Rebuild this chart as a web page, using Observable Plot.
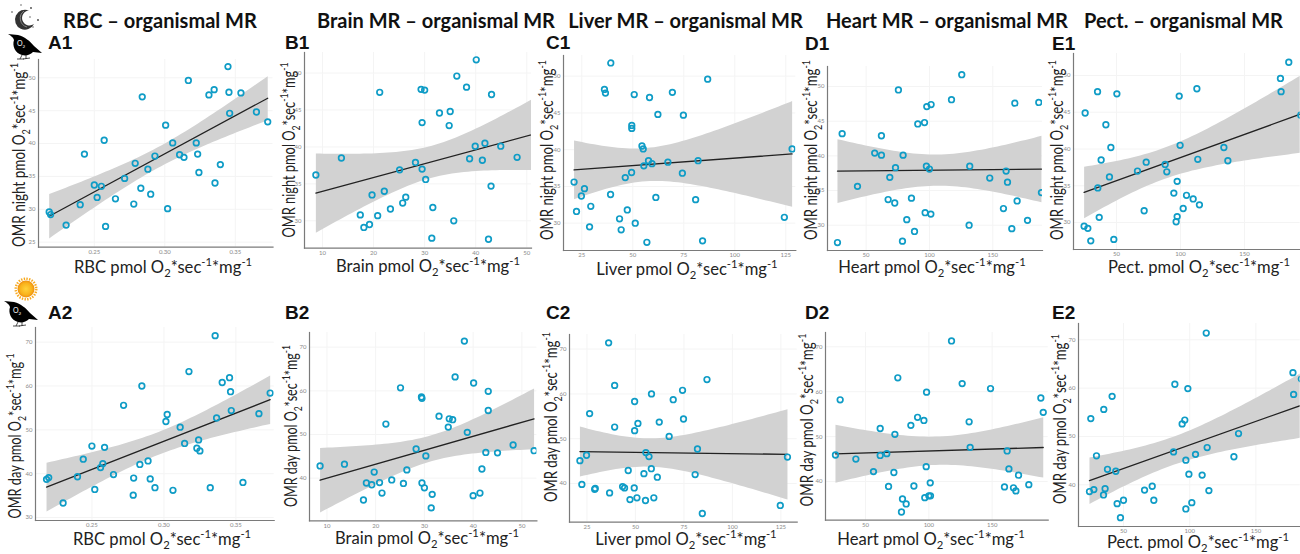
<!DOCTYPE html>
<html>
<head>
<meta charset="utf-8">
<script src="https://cdn.jsdelivr.net/npm/d3@7"></script>
<script src="https://cdn.jsdelivr.net/npm/@observablehq/plot@0.6"></script>
<style>
html,body{margin:0;padding:0;background:#fff;overflow:hidden}
#page{position:relative;width:1300px;height:554px;overflow:hidden;font-family:Lato,"Open Sans",sans-serif;color:#111}
#page svg.panel{position:absolute}
.t{position:absolute;white-space:nowrap;line-height:1}
.title{font-weight:700;font-size:20px;transform:translate(-50%,-50%)}
.letter{font-family:"Liberation Sans",Arial,sans-serif;font-weight:700;font-size:19px;transform:translate(0,-50%)}
.xl{font-size:16.6px;transform:translate(-50%,-50%);color:#222}
.yl{font-size:17.6px;color:#222}
sub,sup{font-size:.68em;line-height:0}
</style>
</head>
<body>
<div id="page"></div>
<script>
// Values, one pair of lists per panel
const a1X=[.218,.219,.230,.240,.243,.250,.252,.255,.257,.258,.265,.2715,.278,.279,.283,.284,.288,.290,.293,.3006,.302,.3056,.3105,.3136,.3167,.3223,.3233,.3242,.3313,.335,.3356,.3394,.3448,.3455,.346,.354,.365,.373];
const a1Y=[29.6,29.2,27.6,30.7,38.4,33.7,31.8,33.5,40.5,27.4,31.6,34.7,30.8,37.0,33.2,47.1,36.1,32.3,38.1,42.8,30.1,40.1,38.3,37.9,49.6,40.1,38.4,35.6,47.4,48.2,34.0,36.8,51.7,47.8,44.6,47.7,44.8,43.3];
const a2X=[.2185,.220,.230,.240,.244,.250,.252,.256,.2576,.2588,.265,.272,.2787,.279,.2833,.2847,.289,.2905,.2938,.3014,.3023,.3063,.3113,.3144,.3174,.3229,.3241,.325,.3322,.3366,.3356,.3405,.3456,.3463,.3468,.3549,.366,.3738];
const a2Y=[38.7,39.1,33.3,39.3,43.3,46.3,36.4,41.4,42.3,46.0,39.8,55.6,35.1,39.0,42.1,60.0,42.9,38.8,36.8,51.9,53.5,36.2,50.6,46.9,63.3,45.8,47.7,45.2,36.8,52.7,71.5,60.8,61.9,58.7,54.4,38.0,53.7,58.4];
const b1X=[8.7,13.7,17.4,18.1,19.2,19.7,20.8,21.2,22.1,23.3,25.1,25.7,26.3,28.2,29.3,29.5,29.5,30.0,30.2,31.4,31.6,32.9,34.8,35.0,35.7,36.3,38.2,38.8,39.9,40.1,41.3,41.8,42.5,43.0,43.1,44.9,48.1,52.5];
const b1Y=[36.2,38.5,30.8,29.1,29.5,33.5,30.7,47.4,34.0,31.6,36.9,32.4,33.2,37.9,47.8,37.0,43.3,47.7,35.6,27.65,31.8,44.6,42.9,44.8,30.0,49.6,48.1,38.4,40.1,51.8,38.2,40.5,27.5,34.7,47.1,40.1,38.6,33.7];
const b2X=[8.6,13.6,17.5,18.1,19.2,19.7,20.8,21.3,22.1,23.3,25.1,25.7,26.4,28.3,29.4,29.5,29.5,30.0,30.3,31.4,31.6,33.0,34.9,35.1,35.8,36.3,38.2,38.8,40.0,40.1,41.4,41.8,42.6,43.1,43.1,45.0,48.2,52.5];
const b2Y=[42.8,43.2,35.0,38.9,38.5,41.4,39.0,36.6,52.4,39.6,60.7,38.8,41.9,46.7,58.6,58.3,38.9,37.8,45.1,33.2,36.3,54.2,51.7,53.6,53.4,63.2,71.4,50.5,36.0,61.8,36.6,42.1,45.9,55.5,59.9,45.8,47.6,46.3];
const c1X=[21.2,22.4,24.8,26.3,28.8,29.4,36.1,36.6,39.1,39.2,43.5,44.3,46.3,47.3,49.4,49.5,49.5,50.7,51.2,54.5,55.1,55.4,56.9,57.7,58.2,59.4,61.3,62.3,67.2,69.4,74.3,74.8,80.8,82.0,84.2,86.7,124.3,128.1];
const c1Y=[35.6,31.6,33.7,34.7,29.5,32.3,48.2,47.7,33.9,51.8,30.6,29.1,36.2,31.8,36.9,43.3,42.9,47.5,30.0,40.5,40.1,37.8,27.4,38.5,47.1,38.1,33.5,44.8,38.3,47.8,36.8,44.7,33.2,38.5,27.6,49.6,30.8,40.1];
const c2X=[21.4,22.4,24.8,26.4,29.0,29.3,36.2,36.7,39.3,39.3,43.4,44.4,46.3,47.2,49.4,49.6,49.6,50.8,51.3,54.4,55.4,55.2,57.0,58.2,58.3,59.5,61.3,62.3,67.4,69.5,74.3,74.8,80.8,82.0,84.5,86.9,124.7,128.4];
const c2Y=[45.1,39.8,46.3,55.6,38.7,38.9,71.4,37.9,61.9,52.6,39.3,39.0,42.9,36.4,39.0,58.3,51.8,36.8,53.4,42.2,46.9,36.2,46.0,43.3,60.0,36.8,41.4,53.7,50.5,58.7,60.8,54.4,42.0,47.7,33.3,63.2,35.1,45.9];
const d1X=[27.4,31.1,43.2,56.8,62.1,62.1,67.4,68.7,72.6,73.2,75.5,78.7,79.2,82.1,85.8,88.2,90.8,96.1,96.6,97.6,97.9,100.0,101.1,101.3,117.4,125.5,131.3,131.8,147.6,158.4,160.5,161.6,165.0,167.4,169.2,177.4,186.3,188.4];
const d1Y=[27.5,43.2,35.6,40.4,42.9,40.1,33.7,36.9,33.2,38.3,49.5,27.7,40.1,30.8,33.9,29.1,44.6,44.8,31.8,38.5,47.1,38.1,31.6,47.4,48.1,51.7,30.0,38.5,36.8,32.4,37.8,36.2,29.5,47.6,33.5,30.7,47.7,34.7];
const d2X=[26.3,30,42.4,56.3,61.6,61.6,66.8,68.2,72.4,73.2,75.5,78.4,79.2,82.1,85.8,88.2,91.1,96.1,96.8,97.9,98.2,100,101.3,101.1,117.9,126.3,131.8,132.6,148.7,159.7,161.8,163.2,166.8,168.7,170.8,178.9,188.4,190.3];
const d2Y=[45.9,58.2,45.0,42.2,51.8,45.8,46.2,38.9,42.0,50.5,63.1,33.2,36.1,35.0,52.5,39.0,54.3,53.6,36.4,43.3,59.9,36.8,36.8,39.7,71.3,61.8,53.3,47.6,60.7,38.8,46.8,42.8,38.6,37.9,41.4,39.3,58.6,55.4];
const e1X=[24.7,25.5,27.6,29.9,35.2,35.4,36.5,38.0,41.7,44.5,45.6,47.9,50.3,66.4,71.6,73.2,88.0,89.3,94.8,96.6,97.4,97.4,99.0,99.7,102.1,104.7,109.9,112.8,113.5,114.8,133.9,137.0,178.1,178.6,184.6,194];
const e1Y=[29.5,44.9,29.2,27.5,47.8,34.7,30.7,38.5,43.3,36.2,40.2,27.7,47.5,37.0,31.6,38.2,37.9,36.9,34.0,30.1,30.8,35.6,47.2,40.5,31.9,33.7,33.2,48.2,38.6,32.4,40.2,38.4,49.6,47.8,51.8,44.6];
const e2X=[24.3,25.3,27.6,29.6,35.1,34.9,36.1,37.9,41.4,44.2,45.2,47.7,50.0,65.9,71.7,72.9,87.8,88.8,94.3,96.3,97.1,97.1,98.6,99.4,101.6,104.4,109.4,112.5,113.2,114.5,133.4,136.9,178,178.5,184.3,194];
const e2Y=[38.6,53.7,39.0,46.0,55.6,37.9,39.2,43.2,58.3,42.8,36.1,33.2,36.8,38.9,39.7,36.8,46.8,60.8,52.6,53.4,35.0,45.1,59.9,42.2,36.3,46.3,42.0,71.4,47.7,38.8,45.8,50.6,63.2,58.7,61.9,54.4];

const nightTicks=[30,35,40,45,50];
const dayTicks=[40,50,60,70];

// frame = [left, top, right, bottom]; xCal / yCal = [value, pixel, value, pixel]
const panels=[
 {xs:a1X,ys:a1Y,frame:[37.5,59,272,246.7],xCal:[.25,93.3,.35,234.3],yCal:[25,241.7,50,77.3],xTicks:[.25,.30,.35],yTicks:[25,...nightTicks],fmt:d3.format(".2f")},
 {xs:b1X,ys:b1Y,frame:[303.7,51.7,530.7,247.3],xCal:[10,321.7,50,526],yCal:[30,220,50,72.3],xTicks:[10,20,30,40,50],yTicks:nightTicks},
 {xs:c1X,ys:c1Y,frame:[562.7,55,795,250],xCal:[25,581,125,785],yCal:[30,222.7,50,75.7],xTicks:[25,50,75,100,125],yTicks:nightTicks},
 {xs:d1X,ys:d1Y,frame:[826.7,66,1041.7,250],xCal:[50,865.3,150,992],yCal:[30,224.7,50,86],xTicks:[50,100,150],yTicks:nightTicks},
 {xs:e1X,ys:e1Y,frame:[1073.3,53.3,1300,249.3],xCal:[50,1116.3,150,1244.3],yCal:[30,222.3,50,75.3],xTicks:[50,100,150],yTicks:nightTicks},
 {xs:a2X,ys:a2Y,frame:[35.3,327,274,520],xCal:[.25,91.7,.35,235.7],yCal:[30,517,70,341.7],xTicks:[.25,.30,.35],yTicks:[30,...dayTicks],fmt:d3.format(".2f")},
 {xs:b2X,ys:b2Y,frame:[309.3,332,536.7,520.3],xCal:[10,326.7,50,521.7],yCal:[40,477.7,70,346.7],xTicks:[10,20,30,40,50],yTicks:dayTicks},
 {xs:c2X,ys:c2Y,frame:[569.3,333.7,797,521.3],xCal:[25,586.7,125,780.7],yCal:[40,482.7,70,348.3],xTicks:[25,50,75,100,125],yTicks:dayTicks},
 {xs:d2X,ys:d2Y,frame:[825.3,332,1048,519.7],xCal:[50,865.3,150,992],yCal:[40,481,70,346.3],xTicks:[50,100,150],yTicks:dayTicks},
 {xs:e2X,ys:e2Y,frame:[1078.3,323,1300,526],xCal:[50,1123.3,150,1255.7],yCal:[40,484.3,70,339.3],xTicks:[50,100,150],yTicks:dayTicks}
];

const page=document.getElementById("page");
const ml=16,mt=4,mr=0,mb=14;
panels.forEach(p=>{
  const [L,T,R,B]=p.frame, ox=L-ml, oy=T-mt;
  const rows=p.xs.map((x,i)=>({x,y:p.ys[i]}));
  const svg=Plot.plot({
    width:R-L+ml+mr,height:B-T+mt+mb,
    marginLeft:ml,marginTop:mt,marginRight:mr,marginBottom:mb,
    style:{background:"transparent",fontFamily:"Lato,sans-serif",overflow:"visible"},
    x:{domain:[p.xCal[0],p.xCal[2]],range:[p.xCal[1]-ox,p.xCal[3]-ox],axis:null},
    y:{domain:[p.yCal[0],p.yCal[2]],range:[p.yCal[1]-oy,p.yCal[3]-oy],axis:null},
    marks:[
      Plot.gridX(p.xTicks,{stroke:"#f4f4f4",strokeOpacity:1}),
      Plot.gridY(p.yTicks,{stroke:"#f4f4f4",strokeOpacity:1}),
      Plot.linearRegressionY(rows,{x:"x",y:"y",ci:0.95,stroke:"#222",strokeWidth:1.3,fill:"#d2d2d2",fillOpacity:1,clip:true}),
      Plot.dot(rows,{x:"x",y:"y",r:2.8,stroke:"#0f9cc6",strokeWidth:1.7,fill:"none",clip:true}),
      Plot.frame({anchor:"left",stroke:"#7a7a7a",strokeWidth:1.2}),
      Plot.frame({anchor:"bottom",stroke:"#7a7a7a",strokeWidth:1.2}),
      Plot.axisX(p.xTicks,{anchor:"bottom",label:null,tickSize:0,tickPadding:2.5,fontSize:6,fill:"#8a8a8a",tickFormat:p.fmt||(d=>String(d))}),
      Plot.axisY(p.yTicks,{anchor:"left",label:null,tickSize:0,tickPadding:3,fontSize:6,fill:"#8a8a8a",tickFormat:d=>String(d)})
    ]
  });
  svg.classList.add("panel");
  svg.style.left=ox+"px";svg.style.top=oy+"px";
  page.appendChild(svg);
});

const unit=' pmol O<sub>2</sub>*sec<sup>-1</sup>*mg<sup>-1</sup>';
const put=(cls,html,x,y)=>{const d=document.createElement("div");d.className="t "+cls;d.innerHTML=html;d.style.left=x+"px";d.style.top=y+"px";page.appendChild(d);return d;};

const titles=[["RBC – organismal MR",160],["Brain MR – organismal MR",436],["Liver MR – organismal MR",685.5],["Heart MR – organismal MR",947],["Pect. – organismal MR",1183.5]];
titles.forEach(([s,x])=>put("title",s,x,20));
const letters=[["A1",48,42],["B1",285,42],["C1",546,42],["D1",805,43],["E1",1052,43],["A2",48,312],["B2",285,312],["C2",546,312],["D2",805,312],["E2",1052,312]];
letters.forEach(([s,x,y])=>put("letter",s,x,y));
const xLabels=[["RBC",163,267],["Brain",428,266],["Liver",687,268.5],["Heart",932,267],["Pect.",1199,267],["RBC",162,539],["Brain",427,538],["Liver",686,539],["Heart",931,539],["Pect.",1198,542]];
xLabels.forEach(([s,x,y])=>put("xl",s+unit,x,y));
// x, y centre and length of each vertical label
const yLabels=[["night",19,155,184],["night",289,150,175],["night",547,150,180],["night",811,150,180],["night",1057,150,180],["day",15,436,165],["day",291,426,162],["day",551,417,170],["day",807,420,173],["day",1060,419,170]];
yLabels.forEach(([s,x,y,len])=>{
  const d=put("yl","OMR "+s+unit,x,y);
  const k=len/d.offsetWidth;
  d.style.transform=`translate(-50%,-50%) rotate(-90deg) scaleX(${k})`;
});

// Pictograms: moon, sun and the two birds
const bird='<path d="M8,34 L18,35 C25,37 30,41 34,46 L42,53 L33,52 C30,55 26,56 22,55 C15,53 12,46 14,40 C13,37 11,36 8,34 Z" fill="#000"/><path d="M22,55 L20,59 M26,55 L26,59 M17,59 L24,59 M23,59 L30,58" stroke="#222" stroke-width=".8" fill="none"/><text x="17" y="46" font-size="7" fill="#fff" font-family="Lato,sans-serif">O<tspan font-size="4.5" dy="1.5">2</tspan></text>';
const icons=document.createElementNS("http://www.w3.org/2000/svg","svg");
icons.setAttribute("width",60);icons.setAttribute("height",340);
icons.style.cssText="position:absolute;left:0;top:0;pointer-events:none";
icons.innerHTML=`<defs><radialGradient id="sun"><stop offset="0" stop-color="#ffd23a"/><stop offset=".7" stop-color="#f9b21b"/><stop offset="1" stop-color="#ee8e10"/></radialGradient></defs>
<path d="M29,10.5 A10,10 0 1 0 34,24 A7.5,7.5 0 1 1 29,10.5 Z" fill="#333"/><path d="M24,11 A9,9 0 0 0 27,27" stroke="#999" stroke-width=".8" fill="none"/>
<g fill="#444"><circle cx="12" cy="12" r=".8"/><circle cx="21" cy="5" r=".7"/><circle cx="31" cy="8" r=".9"/><circle cx="38" cy="20" r=".9"/><circle cx="30" cy="17" r=".7"/><circle cx="33" cy="27" r=".7"/></g>
${bird}
<g transform="translate(-4,267)">${bird}</g>
<circle cx="26" cy="289" r="8.5" fill="url(#sun)"/><circle cx="26" cy="289" r="10.3" fill="none" stroke="#f7a81c" stroke-width="2.4" stroke-dasharray="1.4 1.3"/>`;
page.appendChild(icons);
</script>
</body>
</html>
